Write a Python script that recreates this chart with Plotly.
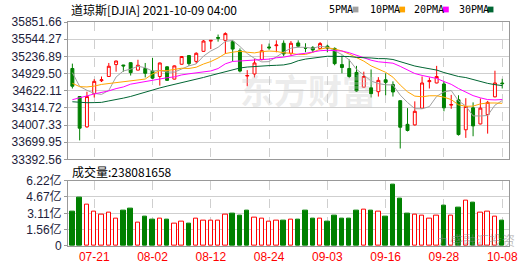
import plotly.graph_objects as go

# ---------------- data ----------------
dates = ["07-16", "07-19", "07-20", "07-21", "07-22", "07-23", "07-26", "07-27", "07-28", "07-29", "07-30",
         "08-02", "08-03", "08-04", "08-05", "08-06", "08-09", "08-10", "08-11", "08-12", "08-13",
         "08-16", "08-17", "08-18", "08-19", "08-20", "08-23", "08-24", "08-25", "08-26", "08-27",
         "08-30", "08-31", "09-01", "09-02", "09-03", "09-07", "09-08", "09-09", "09-10", "09-13",
         "09-14", "09-15", "09-16", "09-17", "09-20", "09-21", "09-22", "09-23", "09-24", "09-27",
         "09-28", "09-29", "09-30", "10-01", "10-04", "10-05", "10-06", "10-07", "10-08"]

opens = [35020, 34518, 33976, 34570, 34801, 34877, 35090, 35082, 35124, 34991,
         35020, 34974, 34877, 35050, 34830, 35096, 35251, 35147, 35327, 35510,
         35575, 35523, 35500, 35338, 34885, 34922, 35182, 35405, 35428, 35471,
         35292, 35477, 35392, 35397, 35379, 35419, 35379, 35090, 35020, 34951,
         34686, 34674, 34605, 34818, 34732, 34444, 34021, 34011, 34311, 34785,
         34761, 34743, 34365, 34461, 33924, 34316, 34028, 34195, 34513, 34760]
highs = [35107, 34525, 34605, 34830, 34877, 35119, 35160, 35085, 35130, 35176,
         35119, 35211, 35125, 35060, 35075, 35240, 35260, 35310, 35528, 35528,
         35627, 35667, 35527, 35379, 34991, 35194, 35453, 35466, 35523, 35523,
         35511, 35523, 35471, 35420, 35494, 35445, 35397, 35251, 35182, 35067,
         34963, 35003, 34865, 34934, 34790, 34450, 34311, 34432, 34877, 34860,
         35067, 34790, 34548, 34541, 34489, 34414, 34484, 34440, 34980, 34835]
lows = [34662, 33734, 33960, 34501, 34778, 34870, 34963, 34963, 34894, 34985,
        34860, 34830, 34714, 34800, 34825, 35090, 35067, 35107, 35320, 35367,
        35500, 35280, 35147, 34951, 34703, 34860, 35165, 35355, 35310, 35240,
        35251, 35397, 35310, 35310, 35370, 35310, 35078, 34934, 34847, 34600,
        34680, 34501, 34518, 34541, 34518, 33589, 33894, 34000, 34300, 34662,
        34755, 34254, 34299, 33820, 33779, 33808, 34020, 33855, 34505, 34662]
closes = [34703, 33952, 34518, 34790, 34818, 35060, 35154, 35066, 34946, 35078,
          34934, 34847, 35119, 34808, 35067, 35234, 35107, 35292, 35511, 35523,
          35562, 35644, 35367, 34974, 34894, 35119, 35338, 35390, 35440, 35280,
          35471, 35419, 35384, 35350, 35466, 35384, 35107, 35038, 34877, 34617,
          34877, 34570, 34808, 34772, 34600, 33969, 33912, 34254, 34761, 34801,
          34877, 34316, 34375, 33838, 34340, 33993, 34311, 34414, 34761, 34749]

# volume in 亿 (1e8 shares)
volume_yi = [3.29, 4.57, 3.90, 3.29, 2.99, 3.17, 2.62, 3.38, 3.57, 2.26,
             2.84, 2.50, 2.62, 2.47, 2.17, 2.35, 2.10, 2.56, 2.38, 2.38,
             2.38, 2.99, 3.11, 2.93, 3.38, 2.71, 2.56, 2.29, 2.38, 2.38,
             2.47, 2.47, 3.41, 2.65, 2.65, 2.29, 2.93, 2.65, 2.65, 3.41,
             3.48, 3.41, 3.29, 2.84, 5.86, 4.48, 3.11, 2.99, 2.90, 2.56,
             2.93, 3.84, 2.93, 3.66, 4.36, 4.12, 3.20, 3.29, 2.81, 2.38]
first_bar_down = True  # direction of first volume bar vs. the (unseen) previous close

ma5 = [34946, 34700, 34630, 34575, 34556, 34628, 34868, 34976, 35008, 35060,
       35034, 34973, 34985, 34957, 34955, 35015, 35067, 35102, 35242, 35333,
       35399, 35506, 35521, 35414, 35288, 35200, 35138, 35143, 35236, 35313,
       35384, 35400, 35399, 35381, 35418, 35401, 35338, 35269, 35174, 35005,
       34903, 34796, 34750, 34729, 34725, 34544, 34412, 34301, 34299, 34339,
       34521, 34602, 34626, 34441, 34349, 34172, 34171, 34179, 34364, 34446]
ma10 = [34755, 34695, 34690, 34705, 34735, 34750, 34765, 34780, 34795, 34808,
        34831, 34921, 34981, 34982, 35007, 35025, 35020, 35043, 35100, 35144,
        35207, 35287, 35312, 35328, 35311, 35299, 35322, 35332, 35325, 35301,
        35292, 35269, 35271, 35309, 35366, 35392, 35369, 35334, 35278, 35211,
        35152, 35067, 35009, 34952, 34865, 34724, 34604, 34526, 34514, 34532,
        34532, 34507, 34464, 34370, 34344, 34347, 34387, 34403, 34403, 34397]
ma20 = [34462, 34490, 34530, 34565, 34588, 34620, 34660, 34690, 34740, 34765,
        34790, 34815, 34835, 34855, 34870, 34905, 34925, 34940, 34958, 34976,
        35019, 35104, 35146, 35155, 35159, 35162, 35171, 35188, 35212, 35223,
        35249, 35278, 35291, 35318, 35338, 35346, 35346, 35333, 35301, 35256,
        35222, 35168, 35140, 35130, 35115, 35058, 34987, 34930, 34896, 34872,
        34842, 34787, 34737, 34661, 34605, 34535, 34495, 34464, 34458, 34465]
ma30 = [34425, 34410, 34408, 34410, 34414, 34440, 34462, 34490, 34520, 34560,
        34600, 34640, 34672, 34705, 34735, 34762, 34790, 34822, 34860, 34895,
        34930, 34972, 35003, 35029, 35046, 35058, 35067, 35072, 35077, 35084,
        35110, 35159, 35188, 35206, 35228, 35239, 35237, 35236, 35234, 35219,
        35217, 35208, 35197, 35196, 35181, 35138, 35099, 35064, 35039, 35015,
        34992, 34948, 34915, 34877, 34858, 34821, 34787, 34754, 34731, 34714]

xtick_labels = ["07-21", "08-02", "08-12", "08-24", "09-03", "09-16", "09-28", "10-08"]
price_ticks = [33392.56, 33699.95, 34007.33, 34314.72, 34622.11, 34929.50, 35236.89, 35544.27, 35851.66]
vol_ticks = [0, 1.555, 3.11, 4.665, 6.22]
vol_ticktext = ["0", "1.56亿", "3.11亿", "4.67亿", "6.22亿"]
title_text = "道琼斯[DJIA] 2021-10-09 04:00"
last_volume = "238081658"
ma_names = ["5PMA", "10PMA", "20PMA", "30PMA"]

# ---------------- styling ----------------
RED = "#ff0000"
GREEN = "#008000"
MA_COLORS = ["#a0a0a0", "#ffa500", "#ff00ff", "#006633"]
GRID = "#cfcfcf"
FRAME = "#999999"
LABEL = "#1c1c3a"

x = list(range(len(dates)))
tick_idx = [dates.index(d) for d in xtick_labels]

fig = go.Figure()

fig.add_trace(go.Candlestick(
    x=x, open=opens, high=highs, low=lows, close=closes,
    xaxis="x", yaxis="y",
    increasing=dict(line=dict(color=RED, width=1), fillcolor="white"),
    decreasing=dict(line=dict(color=GREEN, width=1), fillcolor=GREEN),
    whiskerwidth=0, hoverinfo="skip", showlegend=False,
))

for vals, col in zip([ma5, ma10, ma20, ma30], MA_COLORS):
    fig.add_trace(go.Scatter(x=x, y=vals, mode="lines", line=dict(color=col, width=1),
                             xaxis="x", yaxis="y", hoverinfo="skip", showlegend=False))

up = [(not first_bar_down) if i == 0 else closes[i] >= closes[i - 1] for i in range(len(closes))]
fig.add_trace(go.Bar(
    x=x, y=volume_yi, xaxis="x2", yaxis="y2", width=0.6,
    marker=dict(color=["white" if u else GREEN for u in up],
                line=dict(color=[RED if u else GREEN for u in up], width=1)),
    hoverinfo="skip", showlegend=False,
))

L, R, T, B = 55, 21, 22, 21
W, H = 530, 276
ph = H - T - B
pw = W - L - R


def px_x(px):
    return (px - L) / pw


def px_y(py):
    return (H - B - py) / ph


xr = [-0.6, len(dates) - 1 + 0.93]
common_x = dict(range=xr, tickvals=tick_idx, showgrid=True, gridcolor=GRID, griddash="dash",
                gridwidth=1, showline=True, mirror=True, linecolor=FRAME, linewidth=1,
                zeroline=False, ticks="", fixedrange=True)

fig.update_layout(
    width=W, height=H, margin=dict(l=L, r=R, t=T, b=B),
    paper_bgcolor="white", plot_bgcolor="white", showlegend=False,
    boxgap=0.42,
    xaxis=dict(**common_x, showticklabels=False, anchor="y", rangeslider=dict(visible=False)),
    xaxis2=dict(**common_x, anchor="y2", ticktext=xtick_labels, showticklabels=True,
                tickfont=dict(family="Liberation Sans, Arial", size=12, color=RED)),
    yaxis=dict(domain=[px_y(165), 1], range=[price_ticks[0], price_ticks[-1]],
               tickvals=price_ticks, ticktext=[f"{v:.2f}" for v in price_ticks],
               showgrid=True, gridcolor=GRID, gridwidth=1, showline=True, mirror=True,
               linecolor=FRAME, ticks="outside", ticklen=3, tickcolor=FRAME, zeroline=False,
               tickfont=dict(family="Liberation Sans, Arial", size=12, color=LABEL), fixedrange=True),
    yaxis2=dict(domain=[0, px_y(187)], range=[0, 6.22], tickvals=vol_ticks, ticktext=vol_ticktext,
                showgrid=True, gridcolor=GRID, gridwidth=1, showline=True, mirror=True,
                linecolor=FRAME, ticks="outside", ticklen=3, tickcolor=FRAME, zeroline=False,
                tickfont=dict(family="Liberation Sans, Noto Sans CJK SC", size=12, color=LABEL),
                fixedrange=True),
    bargap=0,
)

ann = []
shapes = []
ann.append(dict(text=title_text, x=px_x(56), y=px_y(9), xref="paper", yref="paper",
                xanchor="left", yanchor="middle", showarrow=False,
                font=dict(family="Noto Sans CJK SC", size=12, color="#000000")))
legend_text_pos = [322, 364, 409, 455]
legend_box_pos = [348, 396, 441, 487]
for name, col, p, b in zip(ma_names, MA_COLORS, legend_text_pos, legend_box_pos):
    ann.append(dict(text=name, x=px_x(p), y=px_y(9), xref="paper", yref="paper",
                    xanchor="left", yanchor="middle", showarrow=False,
                    font=dict(family="DejaVu Sans Mono, Liberation Mono", size=10, color="#000000")))
    shapes.append(dict(type="rect", xref="paper", yref="paper",
                       x0=px_x(b), x1=px_x(b + 6), y0=px_y(12), y1=px_y(6),
                       fillcolor=col, line=dict(width=0)))
ann.append(dict(text="成交量:" + last_volume, x=px_x(57), y=px_y(178), xref="paper", yref="paper",
                xanchor="left", yanchor="middle", showarrow=False,
                font=dict(family="Noto Sans CJK SC", size=12, color="#000000")))
# watermarks
ann.append(dict(text="<b>东方财富</b>", x=px_x(302), y=px_y(92), xref="paper", yref="paper",
                xanchor="center", yanchor="middle", showarrow=False,
                font=dict(family="Noto Sans CJK SC", size=34, color="rgba(200,200,200,0.35)")))
ann.append(dict(text="九盛融汇投资", x=px_x(475), y=px_y(248), xref="paper", yref="paper",
                xanchor="center", yanchor="middle", showarrow=False,
                font=dict(family="Noto Sans CJK SC", size=13, color="rgba(140,140,140,0.55)")))
fig.update_layout(annotations=ann, shapes=shapes)

fig.write_html("out.html")
